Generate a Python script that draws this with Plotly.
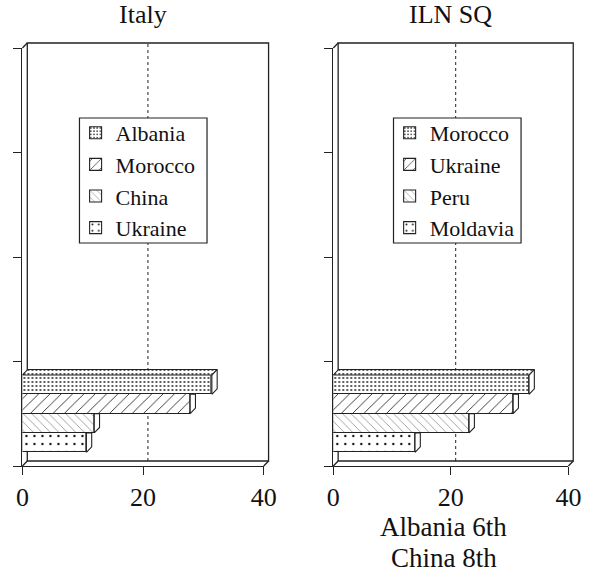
import plotly.graph_objects as go

FIG_W, FIG_H = 593, 579

# ---- data (each panel lists its bars from the top bar down) ----
panel_titles = ["Italy", "ILN SQ"]
italy_countries = ["Albania", "Morocco", "China", "Ukraine"]
italy_values = [31.4, 27.8, 11.9, 10.6]
iln_countries = ["Morocco", "Ukraine", "Peru", "Moldavia"]
iln_values = [33.3, 30.6, 23.1, 13.9]
x_ticks = [0, 20, 40]
y_ticks = [0, 1, 2, 3, 4]
footnote_lines = ["Albania 6th", "China 8th"]

# ---- styling / geometry ----
SERIF = "Liberation Serif, Times New Roman, serif"
LINE = "#222222"
INK = "#111111"
X_RANGE = [0, 40]
Y_RANGE = [0, 4]
X_DOMAINS = [(16 / FIG_W, 265.7 / FIG_W), (337.7 / FIG_W, 581 / FIG_W)]
Y_DOMAIN = ((FIG_H - 466) / FIG_H, (FIG_H - 48) / FIG_H)
WALL_PX = 5.0      # depth offset of the back wall
BAR_PX = 5.5       # depth offset of each bar
BAR_BASE = 0.2235  # centre of the lowest bar (y units)
BAR_STEP = 0.185   # bar thickness = spacing (bars touch)
# legend frames (pixels: left, top, right, bottom) and legend text anchors
LEGEND_BOXES = [(75, 118, 207, 243), (400, 118, 532, 243)]
LEGEND_ANCHORS = [(71, 112), (396, 112)]

# hatch per rank, top bar first
PATTERNS = [
    dict(shape=".", size=4, solidity=0.16),
    dict(shape="/", size=8, solidity=0.1),
    dict(shape="\\", size=6, solidity=0.1),
    dict(shape=".", size=8, solidity=0.07),
]
FG = [INK, INK, "#666666", INK]


def pattern(i):
    p = dict(PATTERNS[i])
    p.update(fgcolor=FG[i], bgcolor="white", fgopacity=1)
    return p


fig = go.Figure()

panels = [(italy_countries, italy_values), (iln_countries, iln_values)]
for k, (names, values) in enumerate(panels):
    xa = "x" if k == 0 else "x2"
    ya = "y" if k == 0 else "y2"
    leg = "legend" if k == 0 else "legend2"
    d0, d1 = X_DOMAINS[k]
    px_per_x = (d1 - d0) * FIG_W / (X_RANGE[1] - X_RANGE[0])
    px_per_y = (Y_DOMAIN[1] - Y_DOMAIN[0]) * FIG_H / (Y_RANGE[1] - Y_RANGE[0])
    dx = BAR_PX / px_per_x
    dy = BAR_PX / px_per_y
    n = len(values)

    # front faces (these carry the legend entries)
    for i, (name, v) in enumerate(zip(names, values)):
        yc = BAR_BASE + (n - 1 - i) * BAR_STEP
        fig.add_trace(go.Bar(
            x=[v], y=[yc], orientation="h", width=BAR_STEP, name=name,
            marker=dict(color="white", line=dict(color=LINE, width=1.1),
                        pattern=pattern(i)),
            xaxis=xa, yaxis=ya, legend=leg, hoverinfo="skip",
        ))

    # side and top faces, lowest bar first so the upper bars hide them
    for i in reversed(range(n)):
        v = values[i]
        yc = BAR_BASE + (n - 1 - i) * BAR_STEP
        y0, y1 = yc - BAR_STEP / 2, yc + BAR_STEP / 2
        above = values[i - 1] if i > 0 else None
        top = y1 + dy if (above is None or above < v + dx) else y1
        fig.add_trace(go.Scatter(
            x=[v, v + dx, v + dx, v, v], y=[y0, y0 + dy, top, y1, y0],
            mode="lines", fill="toself", fillcolor="white",
            line=dict(color=LINE, width=1.1), showlegend=False,
            hoverinfo="skip", xaxis=xa, yaxis=ya,
        ))
        if above is None:
            fig.add_trace(go.Scatter(
                x=[0, dx, v + dx, v, 0], y=[y1, y1 + dy, y1 + dy, y1, y1],
                mode="lines", fill="toself", fillcolor="white",
                fillpattern=pattern(i),
                line=dict(color=LINE, width=1.1), showlegend=False,
                hoverinfo="skip", xaxis=xa, yaxis=ya,
            ))

shapes = []
annotations = []
for k in range(2):
    d0, d1 = X_DOMAINS[k]
    wx = WALL_PX / FIG_W
    wy = WALL_PX / FIG_H
    # back wall
    shapes.append(dict(type="rect", xref="paper", yref="paper",
                       x0=d0 + wx, x1=d1 + wx, y0=Y_DOMAIN[0] + wy, y1=Y_DOMAIN[1] + wy,
                       line=dict(color=LINE, width=1.3), layer="below"))
    # depth edges joining the axes to the wall
    for (ex, ey) in [(d0, Y_DOMAIN[0]), (d1, Y_DOMAIN[0]), (d0, Y_DOMAIN[1])]:
        shapes.append(dict(type="line", xref="paper", yref="paper",
                           x0=ex, y0=ey, x1=ex + wx, y1=ey + wy,
                           line=dict(color=LINE, width=1.3), layer="below"))
    # dotted reference line at 20 on the back wall
    px_per_x = (d1 - d0) * FIG_W / (X_RANGE[1] - X_RANGE[0])
    xa = "x" if k == 0 else "x2"
    shapes.append(dict(type="line", xref=xa, yref="paper",
                       x0=x_ticks[1] + WALL_PX / px_per_x, x1=x_ticks[1] + WALL_PX / px_per_x,
                       y0=Y_DOMAIN[0] + wy, y1=Y_DOMAIN[1] + wy,
                       line=dict(color=LINE, width=1, dash="dot"), layer="below"))
    # legend frame
    bl, bt, br, bb = LEGEND_BOXES[k]
    shapes.append(dict(type="rect", xref="paper", yref="paper",
                       x0=bl / FIG_W, x1=br / FIG_W, y0=1 - bb / FIG_H, y1=1 - bt / FIG_H,
                       line=dict(color=LINE, width=1.2), fillcolor="white", layer="above"))
    annotations.append(dict(text=panel_titles[k], xref="paper", yref="paper",
                            x=(d0 + d1) / 2, y=1 - 15 / FIG_H, xanchor="center",
                            yanchor="middle", showarrow=False,
                            font=dict(family=SERIF, size=26, color=INK)))

for j, line in enumerate(footnote_lines):
    annotations.append(dict(text=line, xref="paper", yref="paper",
                            x=452 / FIG_W, y=1 - (527 + 31 * j) / FIG_H,
                            xanchor="center", yanchor="middle", showarrow=False,
                            font=dict(family=SERIF, size=27, color=INK)))

axis_common = dict(showgrid=False, zeroline=False, showline=True, linecolor=LINE,
                   linewidth=1.3, ticks="outside", ticklen=8, tickwidth=1.3,
                   tickcolor=LINE, fixedrange=True)
xaxis_style = dict(axis_common, range=X_RANGE, tickvals=x_ticks,
                   tickfont=dict(family=SERIF, size=26, color=INK))
yaxis_style = dict(axis_common, range=Y_RANGE, tickvals=y_ticks, showticklabels=False)

legend_common = dict(xanchor="left", yanchor="top", bgcolor="rgba(0,0,0,0)",
                     borderwidth=0, traceorder="normal",
                     font=dict(family=SERIF, size=22, color=INK))

fig.update_layout(
    width=FIG_W, height=FIG_H,
    margin=dict(l=0, r=0, t=0, b=0),
    font=dict(family=SERIF, color=INK),
    paper_bgcolor="white", plot_bgcolor="rgba(0,0,0,0)",
    barmode="overlay", bargap=0,
    xaxis=dict(xaxis_style, domain=list(X_DOMAINS[0]), anchor="y"),
    yaxis=dict(yaxis_style, domain=list(Y_DOMAIN), anchor="x"),
    xaxis2=dict(xaxis_style, domain=list(X_DOMAINS[1]), anchor="y2"),
    yaxis2=dict(yaxis_style, domain=list(Y_DOMAIN), anchor="x2"),
    legend=dict(legend_common, x=LEGEND_ANCHORS[0][0] / FIG_W,
                y=1 - LEGEND_ANCHORS[0][1] / FIG_H),
    legend2=dict(legend_common, x=LEGEND_ANCHORS[1][0] / FIG_W,
                 y=1 - LEGEND_ANCHORS[1][1] / FIG_H),
    shapes=shapes, annotations=annotations,
    showlegend=True,
)

fig.write_html("out.html")
